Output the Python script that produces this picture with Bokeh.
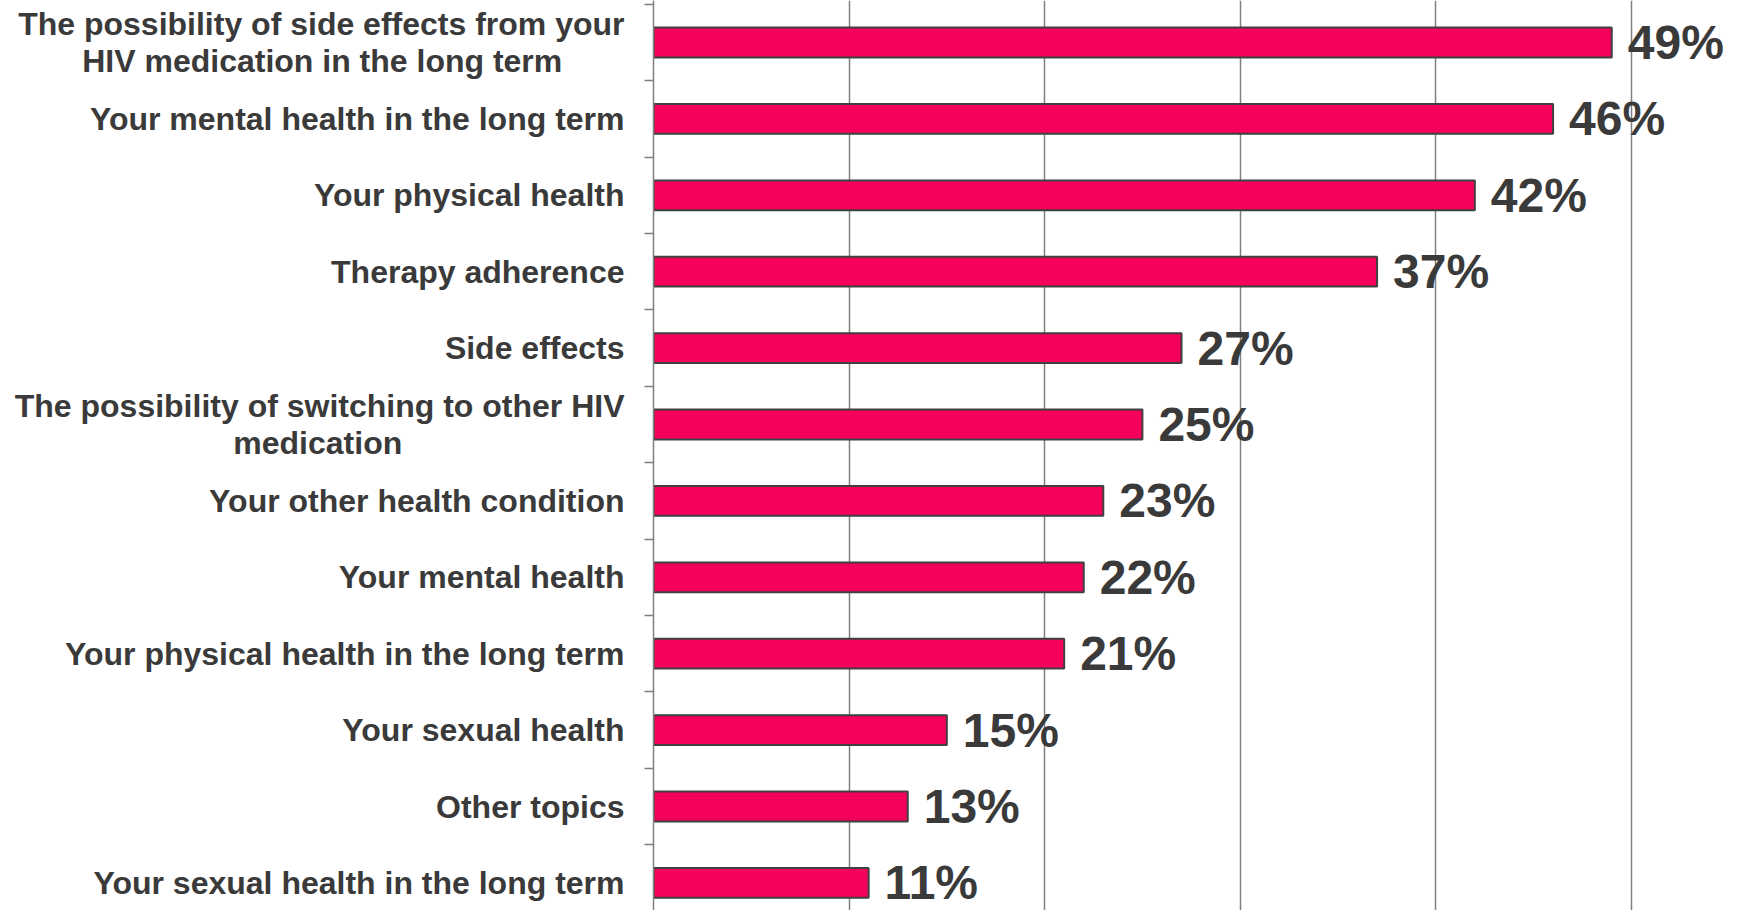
from bokeh.plotting import figure
from bokeh.models import Range1d, FixedTicker, ColumnDataSource
from bokeh.core.properties import value
from bokeh.embed import file_html
from bokeh.resources import INLINE

NB = "\u00a0"
categories = [
    "The possibility of side effects from your\nHIV medication in the long term" + NB * 7,
    "Your mental health in the long term",
    "Your physical health",
    "Therapy adherence",
    "Side effects",
    "The possibility of switching to other HIV\nmedication" + NB * 25,
    "Your other health condition",
    "Your mental health",
    "Your physical health in the long term",
    "Your sexual health",
    "Other topics",
    "Your sexual health in the long term",
]
values = [49, 46, 42, 37, 27, 25, 23, 22, 21, 15, 13, 11]
value_labels = ["49%", "46%", "42%", "37%", "27%", "25%", "23%", "22%", "21%", "15%", "13%", "11%"]

n = len(categories)
ypos = list(range(n))

W, H = 1754, 910
step = 76.4
c0 = 42.0
p = figure(width=W, height=H, output_backend="svg", toolbar_location=None,
           x_range=Range1d(0, 56.3),
           y_range=Range1d((H - c0) / step, -c0 / step),
           min_border_left=653, min_border_right=0, min_border_top=0, min_border_bottom=0)
p.outline_line_color = None
p.background_fill_color = "white"

src = ColumnDataSource(dict(y=ypos, v=values, lab=value_labels))
p.hbar(y="y", right="v", left=0, height=0.39, source=src,
       fill_color="#F5005A", line_color="#404040", line_width=2)
p.text(x="v", y="y", text="lab", source=src, x_offset=16,
       text_font=value("Liberation Sans"), text_font_style="bold",
       text_font_size="48px", text_color="#3a3a3a",
       text_baseline="middle", text_align="left")

p.xaxis.visible = False
p.xgrid.ticker = FixedTicker(ticks=[10, 20, 30, 40, 50])
p.xgrid.grid_line_color = "#808080"
p.xgrid.grid_line_width = 1.5
p.ygrid.grid_line_color = None

yax = p.yaxis[0]
yax.ticker = FixedTicker(ticks=ypos, minor_ticks=[i - 0.5 for i in range(n + 1)])
yax.major_label_overrides = {i: c for i, c in enumerate(categories)}
yax.major_tick_line_color = None
yax.major_tick_out = 0
yax.major_tick_in = 0
yax.minor_tick_out = 9
yax.minor_tick_in = 0
yax.minor_tick_line_color = "#808080"
yax.minor_tick_line_width = 1.5
yax.axis_line_color = "#808080"
yax.axis_line_width = 1.5
yax.major_label_standoff = 20
yax.major_label_text_font = "Liberation Sans"
yax.major_label_text_font_style = "bold"
yax.major_label_text_font_size = "32px"
yax.major_label_text_color = "#3a3a3a"
yax.major_label_text_line_height = 1.05

open("out.html", "w").write(file_html(p, INLINE))
